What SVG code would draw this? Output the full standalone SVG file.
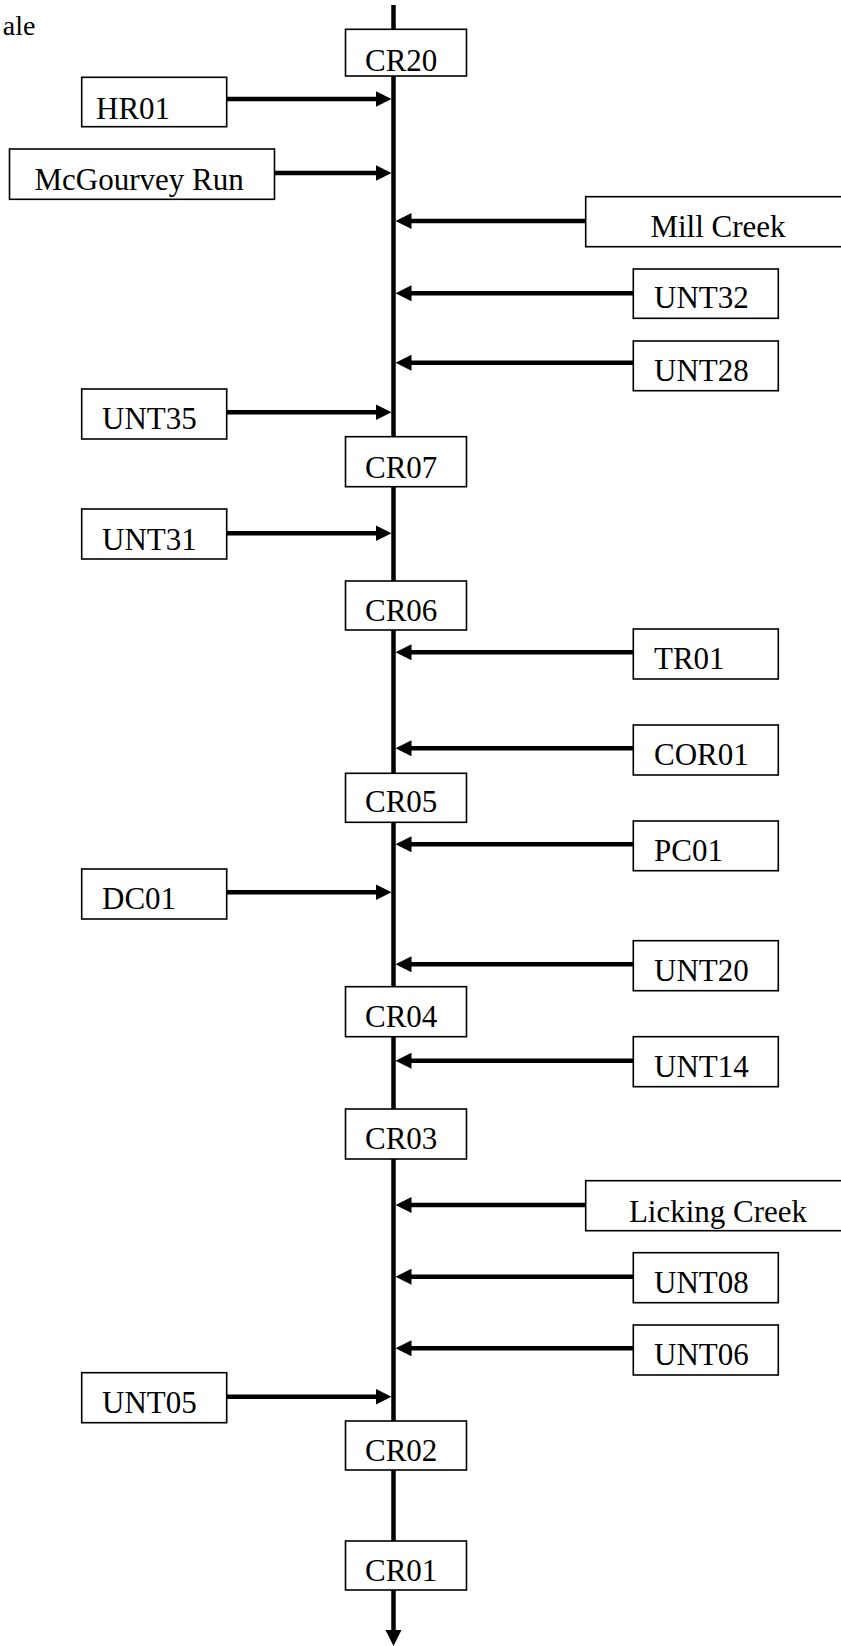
<svg xmlns="http://www.w3.org/2000/svg" width="841" height="1646" viewBox="0 0 841 1646">
<defs>
<style>
.box{fill:#fff;stroke:#000;stroke-width:1.6}
.lbl{font-family:"Liberation Serif","Times New Roman",serif;font-size:31px;fill:#000}
.mid{text-anchor:middle}
.con{stroke:#000;stroke-width:4.5;fill:none}
</style>
<marker id="ah" markerUnits="userSpaceOnUse" markerWidth="18" markerHeight="18" refX="3" refY="8" orient="auto">
<path d="M0,0 L16,8 L0,16 z" fill="#000"/>
</marker>
</defs>
<rect width="841" height="1646" fill="#fff"/>
<text x="35.5" y="35" class="lbl" style="font-size:28px;text-anchor:end">ale</text>
<g id="connectors">
<line class="con" x1="393.5" y1="5" x2="393.5" y2="1633" marker-end="url(#ah)"/>
<line class="con" x1="226.7" y1="99" x2="378.5" y2="99" marker-end="url(#ah)"/>
<line class="con" x1="274" y1="173" x2="378.5" y2="173" marker-end="url(#ah)"/>
<line class="con" x1="585.7" y1="221" x2="408.5" y2="221" marker-end="url(#ah)"/>
<line class="con" x1="633.3" y1="293.3" x2="408.5" y2="293.3" marker-end="url(#ah)"/>
<line class="con" x1="633.3" y1="362.7" x2="408.5" y2="362.7" marker-end="url(#ah)"/>
<line class="con" x1="226.7" y1="412.3" x2="378.5" y2="412.3" marker-end="url(#ah)"/>
<line class="con" x1="226.7" y1="533.3" x2="378.5" y2="533.3" marker-end="url(#ah)"/>
<line class="con" x1="633.3" y1="652.3" x2="408.5" y2="652.3" marker-end="url(#ah)"/>
<line class="con" x1="633.3" y1="748.3" x2="408.5" y2="748.3" marker-end="url(#ah)"/>
<line class="con" x1="633.3" y1="844.3" x2="408.5" y2="844.3" marker-end="url(#ah)"/>
<line class="con" x1="226.7" y1="892.3" x2="378.5" y2="892.3" marker-end="url(#ah)"/>
<line class="con" x1="633.3" y1="964.3" x2="408.5" y2="964.3" marker-end="url(#ah)"/>
<line class="con" x1="633.3" y1="1060.7" x2="408.5" y2="1060.7" marker-end="url(#ah)"/>
<line class="con" x1="585.7" y1="1205" x2="408.5" y2="1205" marker-end="url(#ah)"/>
<line class="con" x1="633.3" y1="1276.7" x2="408.5" y2="1276.7" marker-end="url(#ah)"/>
<line class="con" x1="633.3" y1="1348.3" x2="408.5" y2="1348.3" marker-end="url(#ah)"/>
<line class="con" x1="226.7" y1="1396.7" x2="378.5" y2="1396.7" marker-end="url(#ah)"/>
</g>
<g id="CR20"><rect class="box" x="345.5" y="29.3" width="121" height="46.7"/><text class="lbl" x="365" y="70.5">CR20</text></g>
<g id="HR01"><rect class="box" x="81.7" y="77.3" width="145" height="49.4"/><text class="lbl" x="96" y="118.8">HR01</text></g>
<g id="McGourvey"><rect class="box" x="9.5" y="149" width="265" height="50.3"/><text class="lbl" x="34.5" y="189.8">McGourvey Run</text></g>
<g id="MillCreek"><rect class="box" x="585.7" y="196.7" width="264" height="50"/><text class="lbl mid" x="718" y="236.5">Mill Creek</text></g>
<g id="UNT32"><rect class="box" x="633.3" y="269" width="145" height="49.3"/><text class="lbl" x="654" y="307.8">UNT32</text></g>
<g id="UNT28"><rect class="box" x="633.3" y="341" width="145" height="49.7"/><text class="lbl" x="654" y="380.5">UNT28</text></g>
<g id="UNT35"><rect class="box" x="81.7" y="389" width="145" height="50"/><text class="lbl" x="102" y="428.8">UNT35</text></g>
<g id="CR07"><rect class="box" x="345.5" y="436.7" width="121" height="50"/><text class="lbl" x="365" y="477.8">CR07</text></g>
<g id="UNT31"><rect class="box" x="81.7" y="509" width="145" height="50"/><text class="lbl" x="102" y="549.5">UNT31</text></g>
<g id="CR06"><rect class="box" x="345.5" y="581" width="121" height="49"/><text class="lbl" x="365" y="620.5">CR06</text></g>
<g id="TR01"><rect class="box" x="633.3" y="629" width="145" height="50"/><text class="lbl" x="654" y="668.8">TR01</text></g>
<g id="COR01"><rect class="box" x="633.3" y="725" width="145" height="50"/><text class="lbl" x="654" y="764.5">COR01</text></g>
<g id="CR05"><rect class="box" x="345.5" y="773.3" width="121" height="49"/><text class="lbl" x="365" y="812">CR05</text></g>
<g id="PC01"><rect class="box" x="633.3" y="821" width="145" height="49.7"/><text class="lbl" x="654" y="860.5">PC01</text></g>
<g id="DC01"><rect class="box" x="81.7" y="869" width="145" height="50"/><text class="lbl" x="102" y="908.8">DC01</text></g>
<g id="UNT20"><rect class="box" x="633.3" y="940.7" width="145" height="50"/><text class="lbl" x="654" y="980.5">UNT20</text></g>
<g id="CR04"><rect class="box" x="345.5" y="986.7" width="121" height="50"/><text class="lbl" x="365" y="1027">CR04</text></g>
<g id="UNT14"><rect class="box" x="633.3" y="1036.7" width="145" height="50"/><text class="lbl" x="654" y="1076.5">UNT14</text></g>
<g id="CR03"><rect class="box" x="345.5" y="1109" width="121" height="50"/><text class="lbl" x="365" y="1149">CR03</text></g>
<g id="LickingCreek"><rect class="box" x="585.7" y="1180.7" width="264" height="50"/><text class="lbl mid" x="718" y="1222">Licking Creek</text></g>
<g id="UNT08"><rect class="box" x="633.3" y="1252.7" width="145" height="50"/><text class="lbl" x="654" y="1292.8">UNT08</text></g>
<g id="UNT06"><rect class="box" x="633.3" y="1325" width="145" height="50"/><text class="lbl" x="654" y="1364.8">UNT06</text></g>
<g id="UNT05"><rect class="box" x="81.7" y="1372.7" width="145" height="50"/><text class="lbl" x="102" y="1413">UNT05</text></g>
<g id="CR02"><rect class="box" x="345.5" y="1421" width="121" height="49"/><text class="lbl" x="365" y="1460.5">CR02</text></g>
<g id="CR01"><rect class="box" x="345.5" y="1541" width="121" height="49"/><text class="lbl" x="365" y="1580.5">CR01</text></g>
</svg>
